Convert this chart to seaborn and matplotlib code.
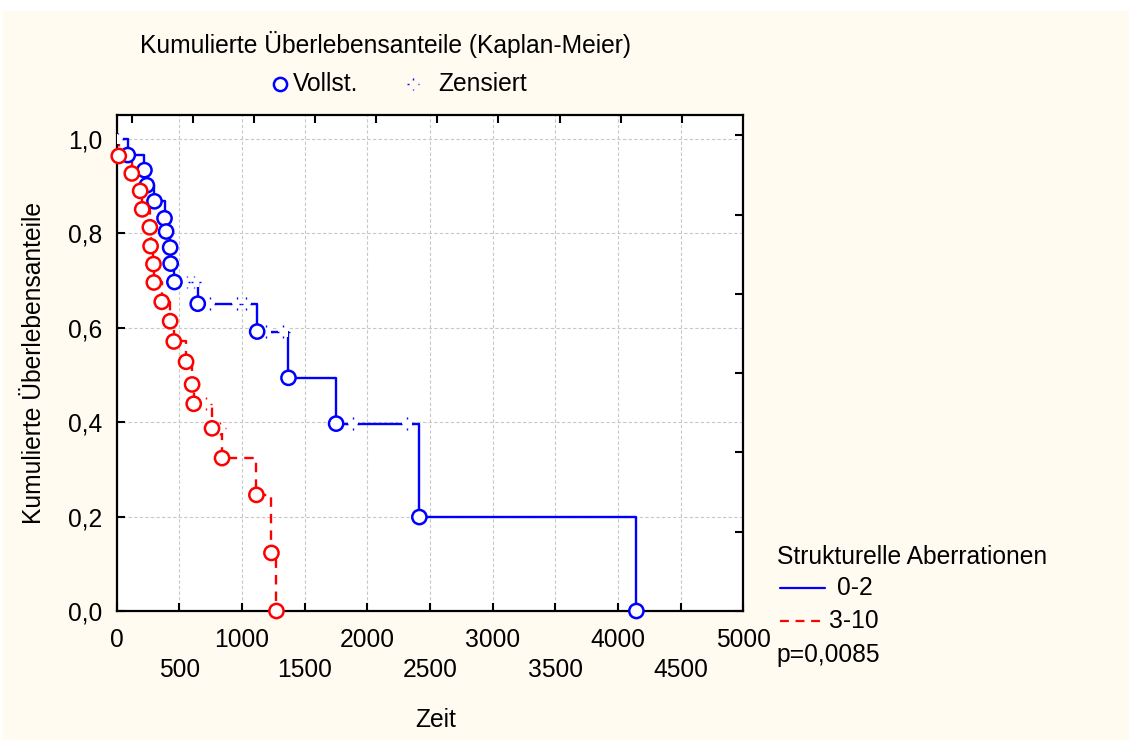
import numpy as np
import pandas as pd
import matplotlib
matplotlib.use("Agg")
import matplotlib.pyplot as plt
import seaborn as sns
from matplotlib.path import Path
from matplotlib.lines import Line2D
from matplotlib.patches import Rectangle
from matplotlib.ticker import FixedLocator, FixedFormatter

# ---------------- data ----------------
group_labels = ["0-2", "3-10"]

# group 0-2 : event times (Vollst.) and survival after each event
blue_event_t = [90, 223, 242, 303, 383, 396, 428, 432, 462, 648, 1122, 1372, 1752, 2416, 4147]
blue_event_s = [0.966, 0.934, 0.902, 0.868, 0.832, 0.804, 0.770, 0.736, 0.697, 0.651,
                0.592, 0.494, 0.397, 0.199, 0.0]
# group 0-2 : censored observations (Zensiert)
blue_cens_t = [10, 560, 622, 742, 960, 1030, 1196, 1330, 1884, 2318]
blue_cens_s = [1.0, 0.697, 0.697, 0.651, 0.651, 0.651, 0.592, 0.592, 0.397, 0.397]

# group 3-10
red_event_t = [18, 122, 189, 205, 266, 272, 295, 298, 361, 428, 457, 555, 603, 616,
               762, 842, 1116, 1236, 1276]
red_event_s = [0.964, 0.927, 0.890, 0.851, 0.813, 0.773, 0.735, 0.696, 0.655, 0.614,
               0.571, 0.528, 0.480, 0.439, 0.387, 0.324, 0.246, 0.123, 0.0]
red_cens_t = [710, 825]
red_cens_s = [0.439, 0.387]

x_major_ticks = [0, 1000, 2000, 3000, 4000, 5000]
x_minor_ticks = [500, 1500, 2500, 3500, 4500]
y_ticks = [0.0, 0.2, 0.4, 0.6, 0.8, 1.0]
y_tick_labels = ["0,0", "0,2", "0,4", "0,6", "0,8", "1,0"]
right_ticks = [0.0, 0.168, 0.336, 0.504, 0.672, 0.840, 1.008]
top_ticks = [121, 609, 1096, 1584, 2071, 2559, 3047, 3534, 4022, 4509]

title_top = "Kumulierte Überlebensanteile (Kaplan-Meier)"
legend_complete = "Vollst."
legend_censored = "Zensiert"
legend_title = "Strukturelle Aberrationen"
p_text = "p=0,0085"
x_label = "Zeit"
y_label = "Kumulierte Überlebensanteile"

colors = {"0-2": "#0000FF", "3-10": "#FF0000"}

# ---------------- tables for seaborn ----------------
def step_table(label, t, s):
    return pd.DataFrame({"Zeit": [0] + list(t), "S": [1.0] + list(s), "Gruppe": label})

steps = pd.concat([step_table("0-2", blue_event_t, blue_event_s),
                   step_table("3-10", red_event_t, red_event_s)], ignore_index=True)
events = pd.concat([
    pd.DataFrame({"Zeit": blue_event_t, "S": blue_event_s, "Gruppe": "0-2"}),
    pd.DataFrame({"Zeit": red_event_t, "S": red_event_s, "Gruppe": "3-10"}),
], ignore_index=True)
cens = pd.concat([
    pd.DataFrame({"Zeit": blue_cens_t, "S": blue_cens_s, "Gruppe": "0-2"}),
    pd.DataFrame({"Zeit": red_cens_t, "S": red_cens_s, "Gruppe": "3-10"}),
], ignore_index=True)

# ---------------- style ----------------
sns.set_theme(style="white")
plt.rcParams["font.family"] = ["Liberation Sans", "DejaVu Sans"]
FS = 17.7
cream = "#FFFBF0"

fig = plt.figure(figsize=(11.29, 7.40), dpi=100, facecolor="white")
fig.add_artist(Rectangle((3 / 1129, 0), 1, (740 - 11) / 740, transform=fig.transFigure,
                         facecolor=cream, edgecolor="none", zorder=-10))

L, R, T, B = 116.5, 743.3, 115, 611
ax = fig.add_axes([L / 1129, 1 - B / 740, (R - L) / 1129, (B - T) / 740])
ax.set_facecolor("white")
ax.set_xlim(0, 5000)
ax.set_ylim(0, (B - T) / 472.0)

# censored marker: four dots at the tips of a plus
d0, d1 = 0.72, 1.0
cverts = [(-d1, 0), (-d0, 0), (d0, 0), (d1, 0), (0, d0), (0, d1), (0, -d0), (0, -d1)]
ccodes = [Path.MOVETO, Path.LINETO] * 4
cens_marker = Path(cverts, ccodes)

# step lines
sns.lineplot(data=steps, x="Zeit", y="S", hue="Gruppe", style="Gruppe",
             palette=colors, dashes={"0-2": "", "3-10": (4, 3)},
             estimator=None, sort=False, drawstyle="steps-post",
             linewidth=1.7, legend=False, ax=ax, zorder=3)

# white gaps behind censored marks
sns.scatterplot(data=cens, x="Zeit", y="S", color="white", marker="s", s=60,
                linewidth=0, legend=False, ax=ax, zorder=4)
# censored marks
sns.scatterplot(data=cens, x="Zeit", y="S", marker=cens_marker, s=85,
                legend=False, ax=ax, zorder=5)
coll = ax.collections[-1]
coll.set_facecolors("none")
coll.set_edgecolors([colors[g] for g in cens["Gruppe"]])
coll.set_linewidths(1.0)

# event circles
sns.scatterplot(data=events, x="Zeit", y="S", marker="o", s=105, legend=False,
                ax=ax, zorder=6, clip_on=False)
coll = ax.collections[-1]
coll.set_facecolors("white")
coll.set_edgecolors([colors[g] for g in events["Gruppe"]])
coll.set_linewidths(1.8)

ax.set_xlabel("")
ax.set_ylabel("")

# ticks
ax.xaxis.set_major_locator(FixedLocator(x_major_ticks))
ax.xaxis.set_major_formatter(FixedFormatter([str(v) for v in x_major_ticks]))
ax.xaxis.set_minor_locator(FixedLocator(x_minor_ticks))
ax.xaxis.set_minor_formatter(FixedFormatter([str(v) for v in x_minor_ticks]))
ax.yaxis.set_major_locator(FixedLocator(y_ticks))
ax.yaxis.set_major_formatter(FixedFormatter(y_tick_labels))

ax.tick_params(axis="x", which="major", direction="in", length=6, width=1.5,
               color="black", labelsize=FS, labelcolor="black", pad=12,
               top=False, bottom=True)
ax.tick_params(axis="x", which="minor", direction="in", length=6, width=1.5,
               color="black", labelsize=FS, labelcolor="black", pad=33.5,
               top=False, bottom=True)
ax.tick_params(axis="y", which="major", direction="in", length=6, width=1.5,
               color="black", labelsize=FS, labelcolor="black", pad=10,
               left=True, right=False)

ax.grid(True, which="both", axis="x", color="#c8c8c8", linestyle=(0, (3, 2)), linewidth=0.8)
ax.grid(True, which="major", axis="y", color="#c8c8c8", linestyle=(0, (3, 2)), linewidth=0.8)
ax.set_axisbelow(True)

for sp in ax.spines.values():
    sp.set_visible(True)
    sp.set_color("black")
    sp.set_linewidth(1.6)

# right and top auxiliary tick marks
axr = ax.twinx()
axr.set_ylim(ax.get_ylim())
axr.yaxis.set_major_locator(FixedLocator(right_ticks))
axr.tick_params(axis="y", direction="in", length=6, width=1.5, color="black",
                labelright=False, right=True)
axt = ax.twiny()
axt.set_xlim(ax.get_xlim())
axt.xaxis.set_major_locator(FixedLocator(top_ticks))
axt.tick_params(axis="x", direction="in", length=6, width=1.5, color="black",
                labeltop=False, top=True)
for a in (axr, axt):
    for sp in a.spines.values():
        sp.set_visible(False)

def fx(px):
    return px / 1129

def fy(py):
    return 1 - py / 740

# axis titles
fig.text(fx(436), fy(720), x_label, ha="center", va="center", fontsize=FS, color="black")
fig.text(fx(34.5), fy(363), y_label, ha="center", va="center",
         rotation=90, fontsize=FS, color="black")

# top legend
fig.text(fx(386), fy(45), title_top, ha="center", va="center", fontsize=FS, color="black")
fig.add_artist(Line2D([fx(280)], [fy(84)], transform=fig.transFigure, marker="o",
                      markersize=9.5, markerfacecolor="white", markeredgecolor="#0000FF",
                      markeredgewidth=1.8, linestyle="none"))
fig.text(fx(293), fy(84), legend_complete, ha="left", va="center", fontsize=FS, color="black")
fig.add_artist(Line2D([fx(413)], [fy(84)], transform=fig.transFigure, marker=cens_marker,
                      markersize=9, markerfacecolor="none", markeredgecolor="#0000FF",
                      markeredgewidth=1.0, linestyle="none"))
fig.text(fx(438), fy(84), legend_censored, ha="left", va="center", fontsize=FS, color="black")

# right legend
fig.text(fx(776.7), fy(557), legend_title, ha="left", va="center", fontsize=FS, color="black")
fig.add_artist(Line2D([fx(780), fx(825)], [fy(588), fy(588)], transform=fig.transFigure,
                      color="#0000FF", linewidth=1.6))
fig.text(fx(837), fy(588), group_labels[0], ha="left", va="center", fontsize=FS, color="black")
fig.add_artist(Line2D([fx(780), fx(822)], [fy(620.5), fy(620.5)], transform=fig.transFigure,
                      color="#FF0000", linewidth=1.6, linestyle=(0, (4, 3))))
fig.text(fx(829), fy(620.5), group_labels[1], ha="left", va="center", fontsize=FS, color="black")
fig.text(fx(776.7), fy(655), p_text, ha="left", va="center", fontsize=FS, color="black")

fig.savefig("out.png", dpi=100, facecolor=fig.get_facecolor())
